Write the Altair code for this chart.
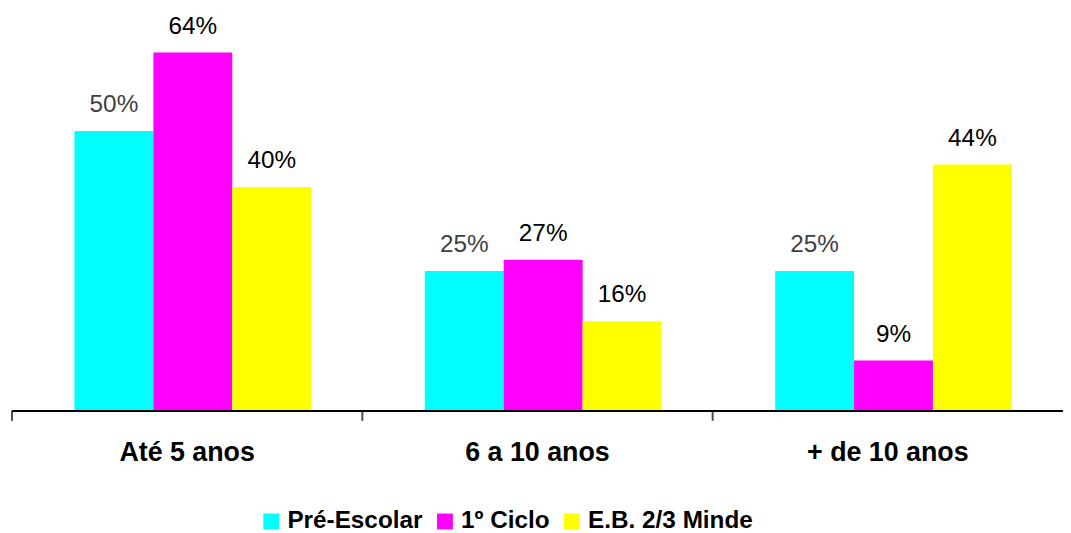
import altair as alt
import pandas as pd

categories = ["Até 5 anos", "6 a 10 anos", "+ de 10 anos"]
series = ["Pré-Escolar", "1º Ciclo", "E.B. 2/3 Minde"]
pre_escolar = [50, 25, 25]
primeiro_ciclo = [64, 27, 9]
eb_minde = [40, 16, 44]
colors = ["#00FFFF", "#FF00FF", "#FFFF00"]

rows = []
for s, vals in zip(series, [pre_escolar, primeiro_ciclo, eb_minde]):
    for c, v in zip(categories, vals):
        rows.append({"cat": c, "serie": s, "valor": v, "label": f"{v}%"})
df = pd.DataFrame(rows)
cat_df = pd.DataFrame({"cat": categories})

FONT = "Liberation Sans"

xscale = alt.Scale(domain=categories, paddingInner=0, paddingOuter=0)
x = alt.X("cat:N", sort=categories, title=None, scale=xscale,
          axis=alt.Axis(labelAngle=0, labelFontSize=27, labelFontWeight="bold",
                        labelColor="black", labelFont=FONT, labelBaseline="alphabetic",
                        labelPadding=50, domain=False, ticks=False,
                        grid=False, labelLimit=400))
xo = alt.XOffset("serie:N", sort=series,
                 scale=alt.Scale(paddingInner=0, paddingOuter=0.72, align=0.55))
yscale = alt.Scale(domain=[0, 70])
y = alt.Y("valor:Q", scale=yscale, axis=None)

bars = alt.Chart(df).mark_bar().encode(
    x=x, xOffset=xo, y=y,
    color=alt.Color("serie:N", sort=series,
                    scale=alt.Scale(domain=series, range=colors),
                    legend=alt.Legend(title=None, orient="none", direction="horizontal",
                                      legendX=249, legendY=494,
                                      symbolType="square", symbolSize=256,
                                      symbolStrokeWidth=0, symbolOpacity=1,
                                      labelFontSize=24.5, labelFontWeight="bold",
                                      labelFont=FONT, labelColor="black",
                                      labelOffset=4, columnPadding=10, labelLimit=400)),
)

text = alt.Chart(df).mark_text(fontSize=24.5, font=FONT, baseline="alphabetic",
                               align="center", dy=-19).encode(
    x=x, xOffset=xo, y=y,
    text="label:N",
    color=alt.condition(alt.datum.serie == "Pré-Escolar",
                        alt.value("#404040"), alt.value("black")),
)

baseline = alt.Chart(cat_df).mark_rule(color="black", strokeWidth=2).encode(
    y=alt.Y(datum=0, scale=yscale, axis=None)
)

ticks = alt.Chart(cat_df).mark_tick(color="black", thickness=2, size=10,
                                    orient="vertical", yOffset=5).encode(
    x=alt.X("cat:N", sort=categories, scale=xscale, bandPosition=0, title=None),
    y=alt.Y(datum=0, scale=yscale, axis=None),
)

chart = alt.layer(bars, baseline, ticks, text).properties(
    width=1059, height=395,
    autosize=alt.AutoSizeParams(type="none"),
    padding={"left": 4, "top": 9, "right": 0, "bottom": 121},
).configure(background="white").configure_view(stroke=None, strokeWidth=0)

chart.save("out.html", embed_options={"renderer": "svg", "actions": False})
